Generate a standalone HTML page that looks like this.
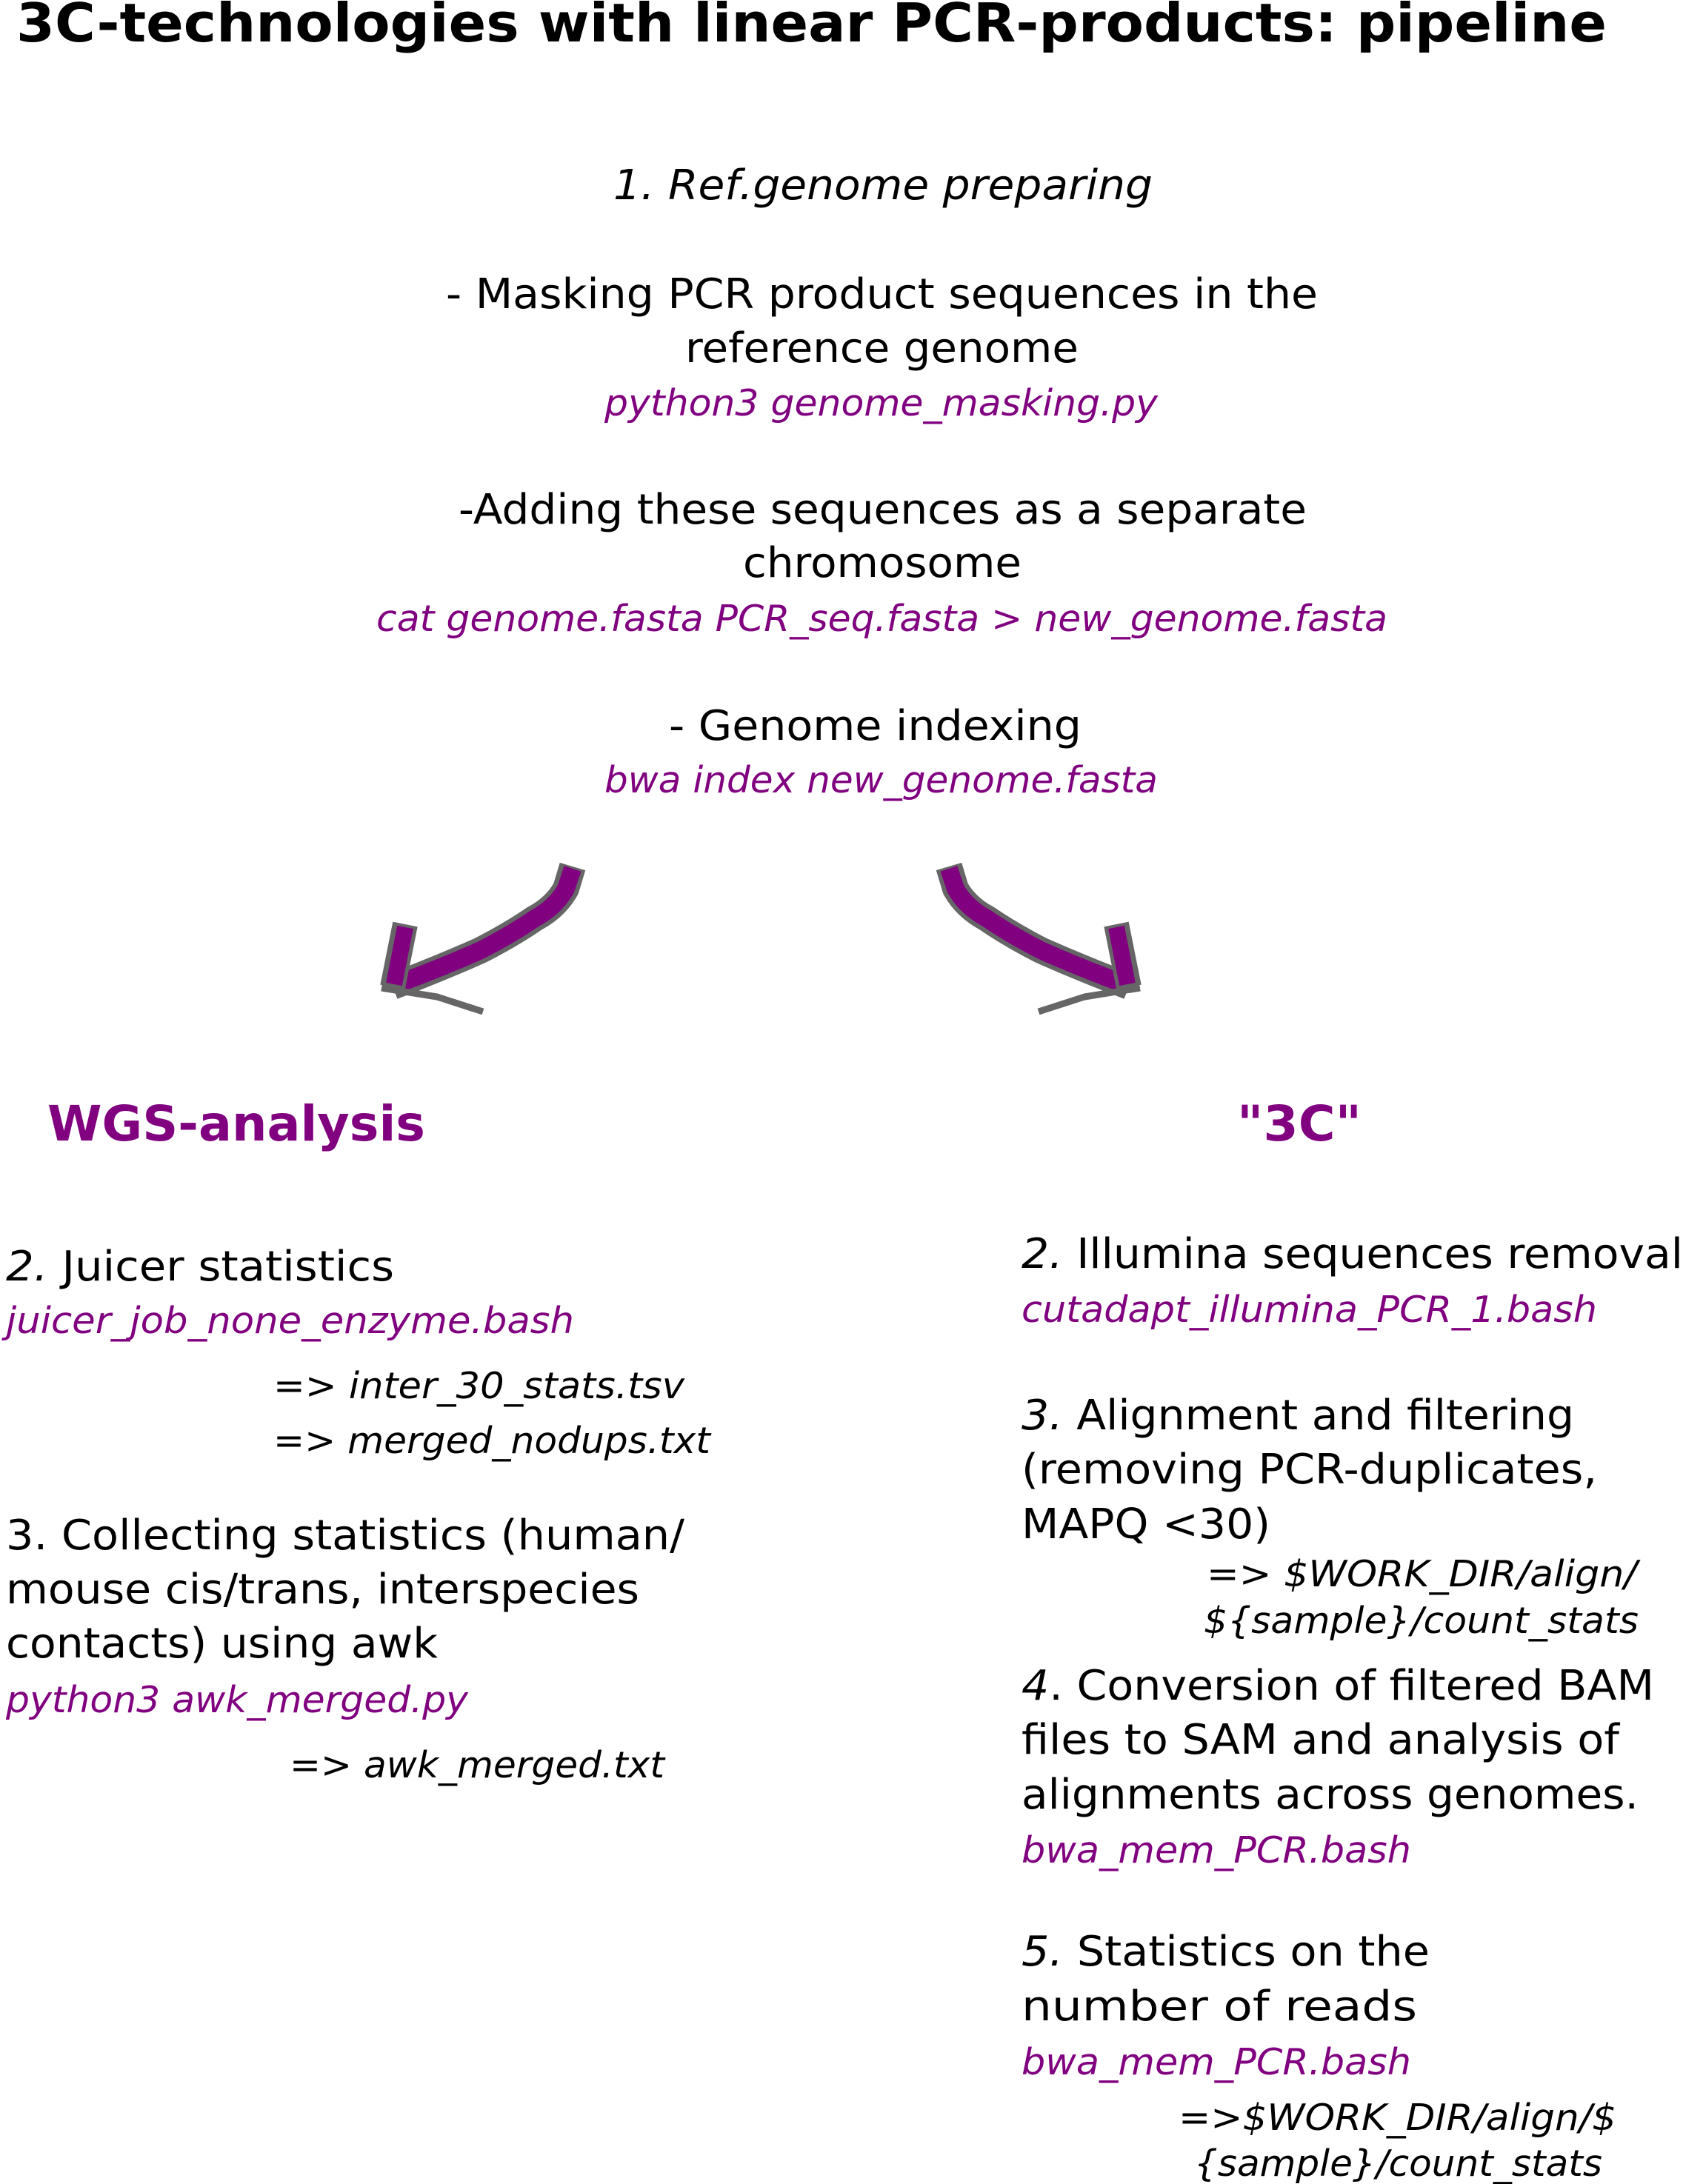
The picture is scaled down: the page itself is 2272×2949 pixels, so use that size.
<!DOCTYPE html>
<html><head><meta charset="utf-8"><style>
html,body{margin:0;padding:0;background:#fff}
svg{display:block}
text{font-family:"DejaVu Sans","Liberation Sans",sans-serif}
.b{fill:#000;font-size:56px}
.i{fill:#000;font-size:56px;font-style:italic}
.p{fill:#800080;font-size:49px;font-style:italic}
.s{fill:#000;font-size:49px;font-style:italic}
.h{fill:#800080;font-size:66px;font-weight:bold}
</style></head><body>
<svg width="2272" height="2949" viewBox="0 0 2272 2949" xmlns="http://www.w3.org/2000/svg">
<text x="22" y="56" style="font-size:72px;font-weight:bold" textLength="2147" lengthAdjust="spacingAndGlyphs">3C-technologies with linear PCR-products: pipeline</text>

<text class="i" x="828" y="269" textLength="728" lengthAdjust="spacingAndGlyphs">1. Ref.genome preparing</text>
<text class="b" x="602" y="416" textLength="1177" lengthAdjust="spacingAndGlyphs">- Masking PCR product sequences in the</text>
<text class="b" x="925" y="489" textLength="531" lengthAdjust="spacingAndGlyphs">reference genome</text>
<text class="p" x="816" y="561" textLength="747" lengthAdjust="spacingAndGlyphs">python3 genome_masking.py</text>
<text class="b" x="619" y="707" textLength="1145" lengthAdjust="spacingAndGlyphs">-Adding these sequences as a separate</text>
<text class="b" x="1003" y="779" textLength="376" lengthAdjust="spacingAndGlyphs">chromosome</text>
<text class="p" x="508" y="852" textLength="1365" lengthAdjust="spacingAndGlyphs">cat genome.fasta PCR_seq.fasta &gt; new_genome.fasta</text>
<text class="b" x="903" y="999" textLength="557" lengthAdjust="spacingAndGlyphs">- Genome indexing</text>
<text class="p" x="816" y="1070" textLength="747" lengthAdjust="spacingAndGlyphs">bwa index new_genome.fasta</text>

<g fill="none" stroke-linecap="butt" stroke-linejoin="round">
  <g id="arr">
    <path d="M773 1170 L764 1200 Q750 1225 722 1240 Q690 1262 649 1283 Q600 1305 530 1332" stroke="#666" stroke-width="36"/>
    <path d="M773 1173 L764 1200 Q750 1225 722 1240 Q690 1262 649 1283 Q600 1305 533 1330" stroke="#800080" stroke-width="24"/>
    <path d="M547 1248 L530 1333" stroke="#666" stroke-width="34"/>
    <path d="M547 1252 L532 1329" stroke="#800080" stroke-width="22"/>
    <path d="M515 1334 L590 1346 L652 1366" stroke="#666" stroke-width="9"/>
  </g>
  <use href="#arr" transform="translate(2054 0) scale(-1 1)"/>
</g>

<text class="h" x="64" y="1540" textLength="510" lengthAdjust="spacingAndGlyphs">WGS-analysis</text>
<text class="h" x="1670" y="1540" textLength="168" lengthAdjust="spacingAndGlyphs">"3C"</text>

<text class="b" x="8" y="1729" textLength="524" lengthAdjust="spacingAndGlyphs"><tspan font-style="italic">2.</tspan> Juicer statistics</text>
<text class="p" x="8" y="1800" textLength="767" lengthAdjust="spacingAndGlyphs">juicer_job_none_enzyme.bash</text>
<text class="s" x="369" y="1888" textLength="555" lengthAdjust="spacingAndGlyphs">=&gt; inter_30_stats.tsv</text>
<text class="s" x="369" y="1962" textLength="590" lengthAdjust="spacingAndGlyphs">=&gt; merged_nodups.txt</text>
<text class="b" x="8" y="2092" textLength="916" lengthAdjust="spacingAndGlyphs">3. Collecting statistics (human/</text>
<text class="b" x="8" y="2165" textLength="855" lengthAdjust="spacingAndGlyphs">mouse cis/trans, interspecies</text>
<text class="b" x="8" y="2238" textLength="583" lengthAdjust="spacingAndGlyphs">contacts) using awk</text>
<text class="p" x="8" y="2312" textLength="624" lengthAdjust="spacingAndGlyphs">python3 awk_merged.py</text>
<text class="s" x="391" y="2400" textLength="506" lengthAdjust="spacingAndGlyphs">=&gt; awk_merged.txt</text>

<text class="b" x="1379" y="1712" textLength="893" lengthAdjust="spacingAndGlyphs"><tspan font-style="italic">2.</tspan> Illumina sequences removal</text>
<text class="p" x="1379" y="1785" textLength="777" lengthAdjust="spacingAndGlyphs">cutadapt_illumina_PCR_1.bash</text>
<text class="b" x="1379" y="1930" textLength="746" lengthAdjust="spacingAndGlyphs"><tspan font-style="italic">3.</tspan> Alignment and filtering</text>
<text class="b" x="1379" y="2003" textLength="777" lengthAdjust="spacingAndGlyphs">(removing PCR-duplicates,</text>
<text class="b" x="1379" y="2077" textLength="336" lengthAdjust="spacingAndGlyphs">MAPQ &lt;30)</text>
<text class="s" x="1629" y="2142" textLength="581" lengthAdjust="spacingAndGlyphs">=&gt; $WORK_DIR/align/</text>
<text class="s" x="1625" y="2205" textLength="587" lengthAdjust="spacingAndGlyphs">${sample}/count_stats</text>
<text class="b" x="1379" y="2295" textLength="854" lengthAdjust="spacingAndGlyphs"><tspan font-style="italic">4</tspan>. Conversion of filtered BAM</text>
<text class="b" x="1379" y="2368" textLength="807" lengthAdjust="spacingAndGlyphs">files to SAM and analysis of</text>
<text class="b" x="1379" y="2442" textLength="833" lengthAdjust="spacingAndGlyphs">alignments across genomes.</text>
<text class="p" x="1379" y="2515" textLength="526" lengthAdjust="spacingAndGlyphs">bwa_mem_PCR.bash</text>
<text class="b" x="1379" y="2654" textLength="551" lengthAdjust="spacingAndGlyphs"><tspan font-style="italic">5.</tspan> Statistics on the</text>
<text class="b" x="1379" y="2728" textLength="534" lengthAdjust="spacingAndGlyphs">number of reads</text>
<text class="p" x="1379" y="2801" textLength="526" lengthAdjust="spacingAndGlyphs">bwa_mem_PCR.bash</text>
<text class="s" x="1591" y="2876" textLength="591" lengthAdjust="spacingAndGlyphs">=&gt;$WORK_DIR/align/$</text>
<text class="s" x="1612" y="2938" textLength="551" lengthAdjust="spacingAndGlyphs">{sample}/count_stats</text>
</svg>
</body></html>
